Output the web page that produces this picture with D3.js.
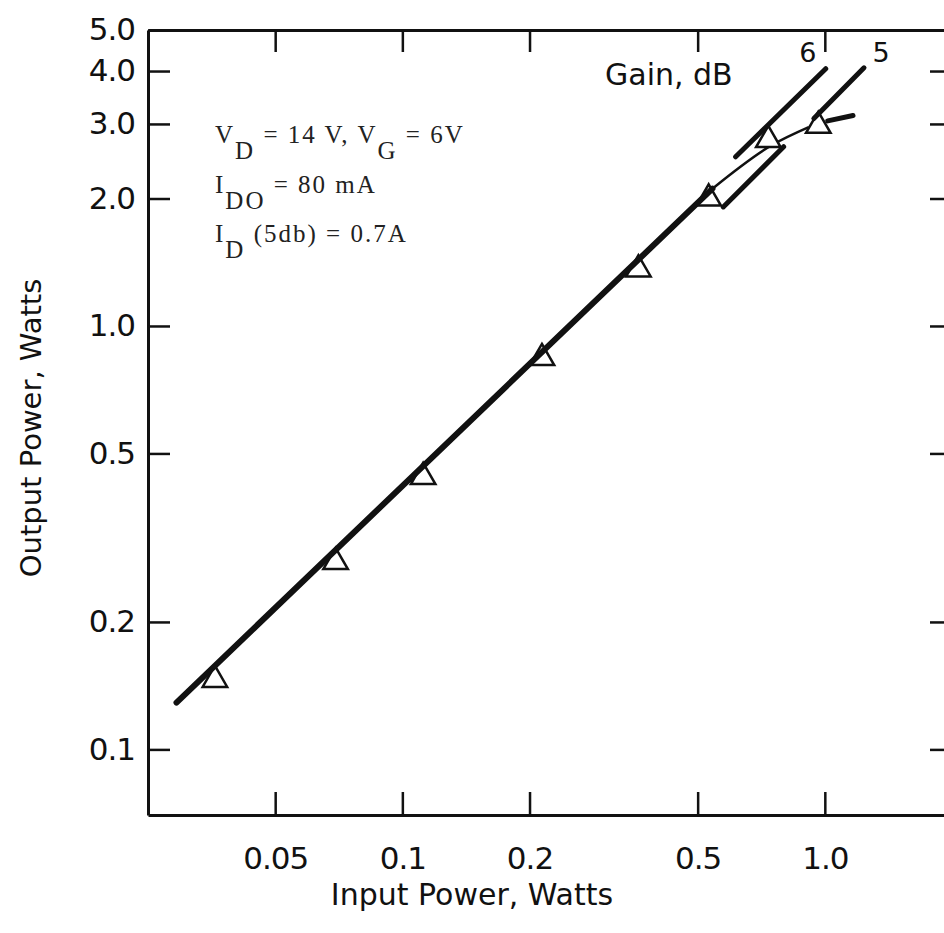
<!DOCTYPE html>
<html>
<head>
<meta charset="utf-8">
<script src="https://cdn.jsdelivr.net/npm/d3@7"></script>
<style>
  body { margin: 0; background: #fff; }
  svg { display: block; }
</style>
</head>
<body>
<div id="chart"></div>
<script>
// axis ticks
const xTicks = [0.05, 0.1, 0.2, 0.5, 1.0]
const xTickLabels = ["0.05", "0.1", "0.2", "0.5", "1.0"]
const yTicks = [5, 4, 3, 2, 1, 0.5, 0.2, 0.1]
const yTickLabels = ["5.0", "4.0", "3.0", "2.0", "1.0", "0.5", "0.2", "0.1"]

// measured points (triangles)
const pinMeasured = [0.036, 0.0695, 0.112, 0.214, 0.362, 0.531, 0.735, 0.965]
const poutMeasured = [0.146, 0.277, 0.44, 0.84, 1.36, 2.0, 2.75, 2.97]

// straight fit line through the points
const fitPin = [0.0292, 0.542]
const fitPout = [0.129, 2.11]
// saturation part: thin curve and thick tail
const satPin = [0.542, 0.752, 0.916]
const satPout = [2.11, 2.68, 2.95]
const tailPin = [1.016, 1.166]
const tailPout = [3.05, 3.14]

// constant gain lines
const gain6Pin = [0.615, 1.005]
const gain6Pout = [2.51, 4.05]
const gain5aPin = [0.575, 0.799]
const gain5aPout = [1.91, 2.65]
const gain5bPin = [0.942, 1.238]
const gain5bPout = [3.09, 4.07]

const w = 944
const h = 933
const frame = {left: 148, right: 952, top: 30, bottom: 815}

const svg = d3.select("#chart").append("svg")
    .attr("width", w)
    .attr("height", h)

const x = d3.scaleLog().domain([0.025, 2.0]).range([frame.left, frame.right])
const y = d3.scaleLog().domain([0.07, 5.0]).range([frame.bottom, frame.top])

const tickFont = "DejaVu Sans"

// bottom axis
svg.append("g")
    .attr("transform", `translate(0,${frame.bottom})`)
    .call(d3.axisBottom(x).tickValues(xTicks)
        .tickFormat((d, i) => xTickLabels[i])
        .tickSizeInner(-23).tickSizeOuter(0).tickPadding(32))
// left axis
svg.append("g")
    .attr("transform", `translate(${frame.left},0)`)
    .call(d3.axisLeft(y).tickValues(yTicks)
        .tickFormat((d, i) => yTickLabels[i])
        .tickSizeInner(-22).tickSizeOuter(0).tickPadding(13))
// top border
svg.append("g")
    .attr("transform", `translate(0,${frame.top})`)
    .call(d3.axisTop(x).tickValues(xTicks).tickFormat("")
        .tickSizeInner(-22).tickSizeOuter(0))
// right border (just past the picture edge)
svg.append("g")
    .attr("transform", `translate(${frame.right},0)`)
    .call(d3.axisRight(y).tickValues(yTicks.slice(1)).tickFormat("")
        .tickSizeInner(-22).tickSizeOuter(0))

svg.selectAll(".domain").attr("stroke", "#111").attr("stroke-width", 3)
svg.selectAll(".tick line").attr("stroke", "#111").attr("stroke-width", 2.5)
svg.selectAll(".tick text")
    .attr("font-family", tickFont)
    .attr("font-size", 31)
    .attr("letter-spacing", -1)
    .attr("fill", "#111")

// axis titles
svg.append("text")
    .attr("x", 472).attr("y", 905)
    .attr("text-anchor", "middle")
    .attr("font-family", tickFont).attr("font-size", 30).attr("fill", "#111")
    .text("Input Power, Watts")
svg.append("text")
    .attr("transform", "translate(41,428) rotate(-90)")
    .attr("text-anchor", "middle")
    .attr("font-family", tickFont).attr("font-size", 29).attr("fill", "#111")
    .text("Output Power, Watts")

const toPts = (a, b) => a.map((v, i) => [x(v), y(b[i])])
const line = d3.line()

// thin saturation curve (under the triangles)
svg.append("path")
    .attr("d", d3.line().curve(d3.curveMonotoneX)(toPts(satPin, satPout)))
    .attr("fill", "none").attr("stroke", "#111").attr("stroke-width", 2.5)

// triangles
svg.selectAll(".pt")
    .data(pinMeasured)
    .enter().append("path")
    .attr("class", "pt")
    .attr("transform", (d, i) => `translate(${x(d)},${y(poutMeasured[i])})`)
    .attr("d", d3.symbol(d3.symbolTriangle, 260))
    .attr("fill", "#fff")
    .attr("stroke", "#111")
    .attr("stroke-width", 2.5)

// fit line
svg.append("path")
    .attr("d", line(toPts(fitPin, fitPout)))
    .attr("stroke", "#111").attr("stroke-width", 6).attr("stroke-linecap", "round")
svg.append("path")
    .attr("d", line(toPts(tailPin, tailPout)))
    .attr("stroke", "#111").attr("stroke-width", 5).attr("stroke-linecap", "round")

// gain lines
const gainLines = [[gain6Pin, gain6Pout], [gain5aPin, gain5aPout], [gain5bPin, gain5bPout]]
gainLines.forEach(g => {
    svg.append("path")
        .attr("d", line(toPts(g[0], g[1])))
        .attr("stroke", "#111").attr("stroke-width", 5).attr("stroke-linecap", "round")
})

// gain labels
svg.append("text")
    .attr("x", x(gain6Pin[1]) - 18).attr("y", y(gain6Pout[1]) - 7)
    .attr("text-anchor", "middle")
    .attr("font-family", tickFont).attr("font-size", 27).attr("fill", "#111")
    .text("6")
svg.append("text")
    .attr("x", x(gain5bPin[1]) + 17).attr("y", y(gain5bPout[1]) - 6)
    .attr("text-anchor", "middle")
    .attr("font-family", tickFont).attr("font-size", 27).attr("fill", "#111")
    .text("5")
svg.append("text")
    .attr("x", 605).attr("y", 85)
    .attr("font-family", tickFont).attr("font-size", 30).attr("fill", "#111")
    .text("Gain, dB")

// bias conditions
const note = svg.append("g")
    .attr("font-family", "Liberation Serif")
    .attr("font-size", 25)
    .attr("fill", "#222")
    .attr("letter-spacing", 2)

function noteLine(yy, parts) {
    const t = note.append("text").attr("x", 215).attr("y", yy)
    let shift = 0
    parts.forEach(p => {
        const dy = (p[1] ? 16 : 0) - shift
        shift = p[1] ? 16 : 0
        t.append("tspan").attr("dy", dy).text(p[0])
    })
}
noteLine(143, [["V"], ["D", 1], [" = 14 V,  V"], ["G", 1], [" = 6V"]])
noteLine(193, [["I"], ["DO", 1], [" = 80 mA"]])
noteLine(242, [["I"], ["D", 1], [" (5db) = 0.7A"]])
</script>
</body>
</html>
